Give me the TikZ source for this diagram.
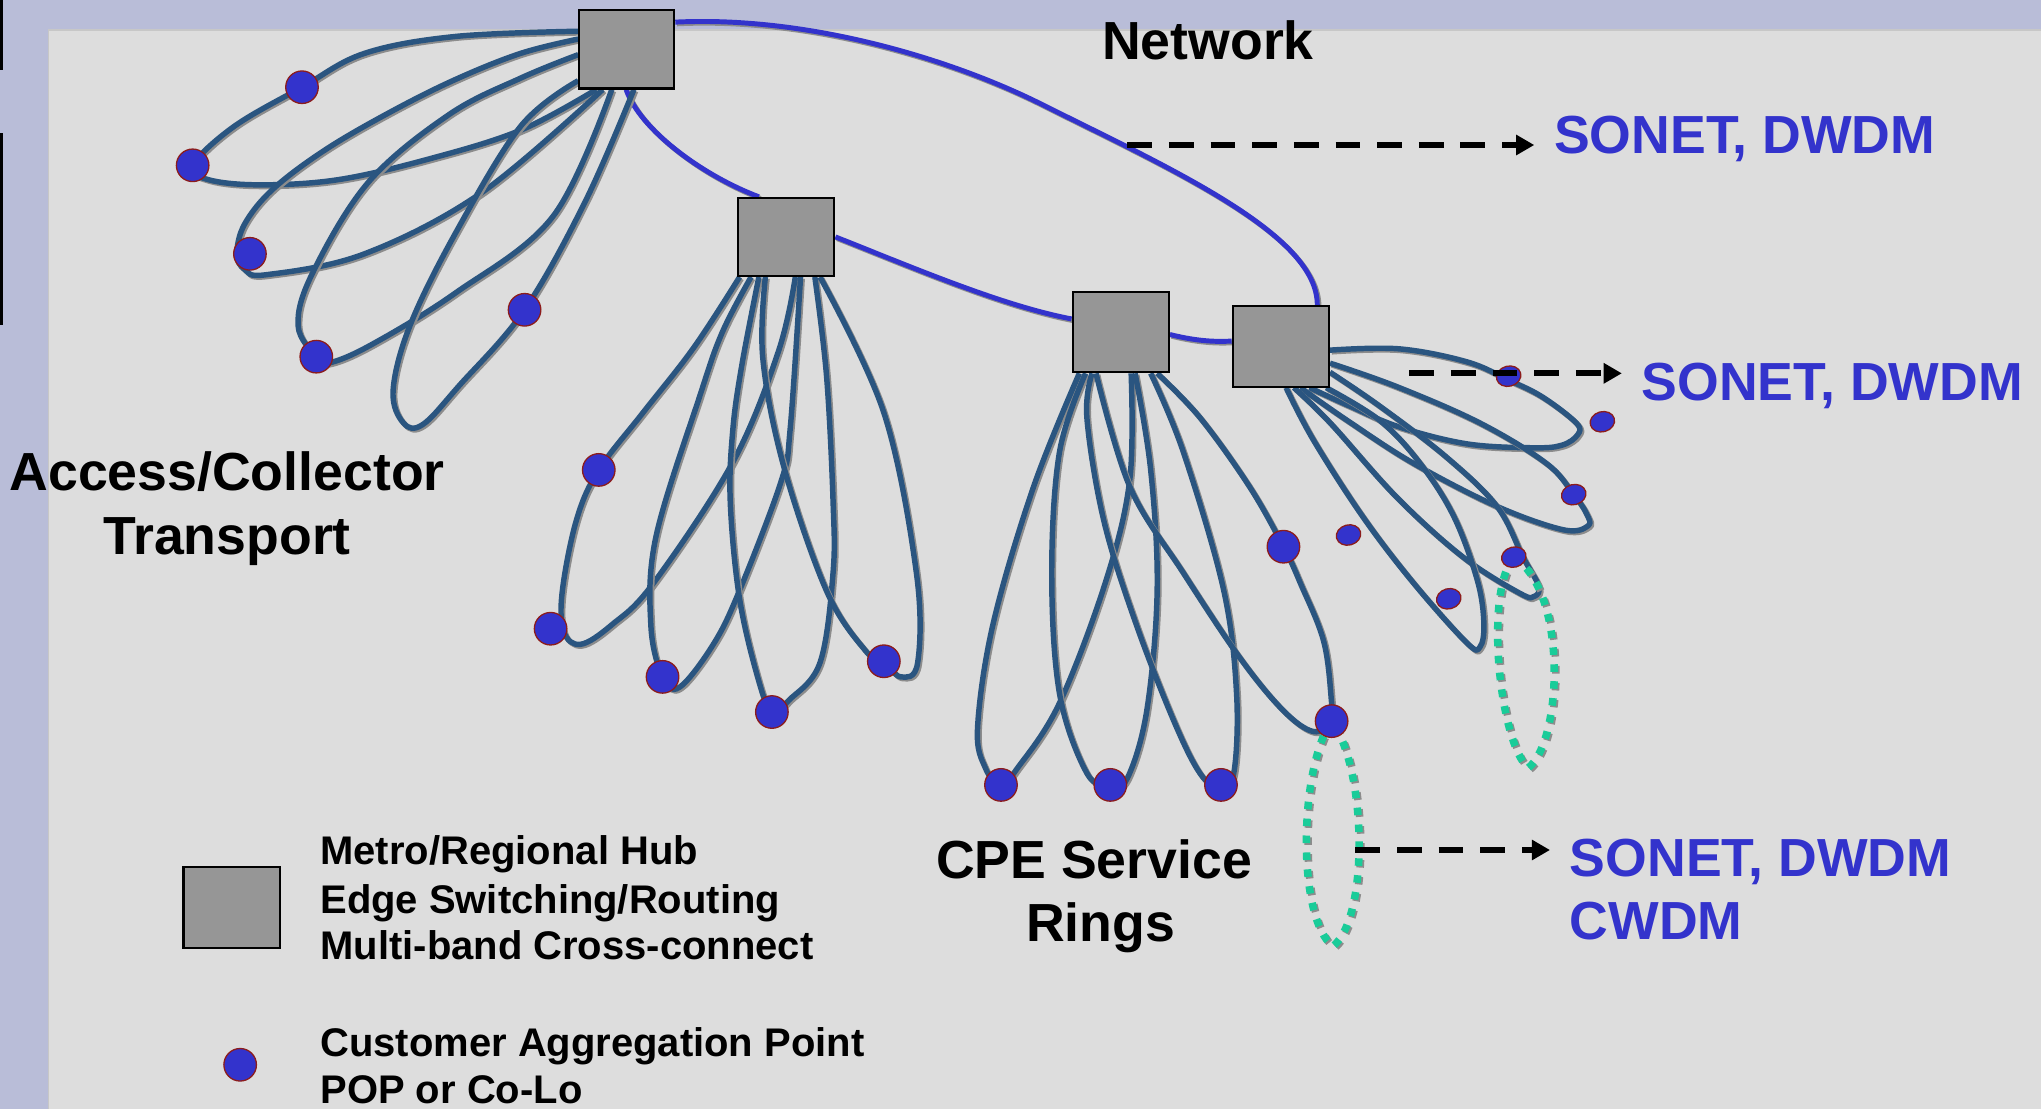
\documentclass[tikz,border=0pt]{standalone}
\usepackage{fontspec}
\setmainfont{Liberation Sans}
\usetikzlibrary{arrows.meta,shapes.geometric}

\definecolor{panel}{HTML}{DDDDDD}
\definecolor{frame}{HTML}{B9BDD8}
\definecolor{hubgray}{HTML}{969696}
\definecolor{ringblue}{HTML}{3333CC}
\definecolor{loopblue}{HTML}{2A5580}
\definecolor{dotrim}{HTML}{8C1C1C}
\definecolor{tealdot}{HTML}{19CC99}
\definecolor{shadowgray}{HTML}{8C8C8C}

\pgfdeclarelayer{back}
\pgfdeclarelayer{links}
\pgfsetlayers{back,links,main}

% draw a path twice: an offset grey copy underneath, then the path itself
\newcommand\withshadow[2]{%
  \draw[#1, shadowpass, transform canvas={shift={(1.3pt,-1.3pt)}}] #2;
  \draw[#1] #2;}

\begin{document}
\begin{tikzpicture}[x=1pt,y=-1pt,
  hubbox/.style={rectangle, fill=hubgray, draw=black, line width=1.6pt,
    minimum width=73pt, minimum height=60pt, inner sep=0pt},
  aggpoint/.style={ellipse, fill=ringblue, draw=dotrim, line width=1pt,
    minimum width=25pt, minimum height=25pt, inner sep=0pt},
  smallpoint/.style={aggpoint, minimum width=19pt, minimum height=15.5pt, rotate=15},
  corering/.style={draw=ringblue, line width=3.8pt},
  fiberloop/.style={draw=loopblue, line width=4.2pt, line join=round},
  tealring/.style={draw=tealdot, line width=5.8pt, dash pattern=on 5.8pt off 7.2pt},
  shadowpass/.style={draw=shadowgray},
  dasharrow/.style={draw=black, line width=4.5pt, dash pattern=on 19pt off 13pt,
    -{Triangle[length=14pt,width=15pt]}, shorten >=15pt},
  lbl/.style={font=\fontsize{41.2}{49}\selectfont\bfseries, inner sep=0pt, anchor=base},
  sonet/.style={lbl, text=ringblue, anchor=base west},
  keytext/.style={font=\fontsize{30.7}{36}\selectfont\bfseries, inner sep=0pt, anchor=base west},
  smooth loop/.style={smooth, tension=0.6}]

\useasboundingbox (0,0) rectangle (1568,852);

% backdrop: frame, panel and the bars on the left margin
\begin{pgfonlayer}{back}
  \fill[frame] (0,0) rectangle (1568,852);
  \fill[panel] (37,23) rectangle (1568,852);
  \draw[black!22, line width=1pt] (37,852) -- (37,23) -- (1568,23);
  \fill[black] (0,0) rectangle (2.5,54);
  \fill[black] (0,102) rectangle (2.5,250);
\end{pgfonlayer}

% hubs
\node[hubbox] (H1) at (481.5,38) {};
\node[hubbox, minimum width=74pt] (H2) at (604,182) {};
\node[hubbox, minimum width=74pt, minimum height=62pt] (H3) at (861,255) {};
\node[hubbox, minimum width=74pt, minimum height=62pt] (H4) at (984,266) {};

% customer aggregation points
\node[aggpoint] (a1) at (232,67) {};
\node[aggpoint] (a2) at (148,127) {};
\node[aggpoint] (a3) at (192,195) {};
\node[aggpoint] (a4) at (243,274) {};
\node[aggpoint] (a5) at (403,238) {};
\node[aggpoint] (b1) at (460,361) {};
\node[aggpoint] (b2) at (423,483) {};
\node[aggpoint] (b3) at (509,520) {};
\node[aggpoint] (b4) at (593,547) {};
\node[aggpoint] (b5) at (679,508) {};
\node[aggpoint] (c1) at (769,603) {};
\node[aggpoint] (c2) at (853,603) {};
\node[aggpoint] (c3) at (938,603) {};
\node[aggpoint] (c4) at (986,420) {};
\node[aggpoint] (c5) at (1023,554) {};
\node[smallpoint] (d1) at (1159,289) {};
\node[smallpoint] (d2) at (1209,380) {};
\node[smallpoint] (d3) at (1163,428) {};
\node[smallpoint] (d4) at (1113,460) {};
\node[smallpoint] (d5) at (1231,324) {};
\node[smallpoint] (d6) at (1036,411) {};

% loop end points on the hub borders
\coordinate (A1s) at ([yshift=14pt]H1.west);
\coordinate (A1e) at ([xshift=-23.5pt]H1.south);
\coordinate (A2s) at ([yshift=8pt]H1.west);
\coordinate (A2e) at ([xshift=-18.5pt]H1.south);
\coordinate (A3s) at ([yshift=-4pt]H1.west);
\coordinate (A3e) at ([xshift=-11.5pt]H1.south);
\coordinate (A4s) at ([yshift=-24pt]H1.west);
\coordinate (A4e) at ([xshift=5.5pt]H1.south);
\coordinate (B1s) at ([xshift=2pt]H2.south west);
\coordinate (B1e) at ([xshift=7pt]H2.south);
\coordinate (B2s) at ([xshift=-27pt]H2.south);
\coordinate (B2e) at ([xshift=11pt]H2.south);
\coordinate (B3s) at ([xshift=-21pt]H2.south);
\coordinate (B3e) at ([xshift=22pt]H2.south);
\coordinate (B4s) at ([xshift=-16pt]H2.south);
\coordinate (B4e) at ([xshift=26pt]H2.south);
\coordinate (C1s) at ([xshift=6pt]H3.south west);
\coordinate (C1e) at ([xshift=8pt]H3.south);
\coordinate (C2s) at ([xshift=-27pt]H3.south);
\coordinate (C2e) at ([xshift=11pt]H3.south);
\coordinate (C3s) at ([xshift=-22pt]H3.south);
\coordinate (C3e) at ([xshift=23pt]H3.south);
\coordinate (C4s) at ([xshift=-19pt]H3.south);
\coordinate (C4e) at ([xshift=28pt]H3.south);
\coordinate (D1s) at ([yshift=-3pt]H4.east);
\coordinate (D1e) at ([xshift=22pt]H4.south);
\coordinate (D2s) at ([yshift=-13pt]H4.east);
\coordinate (D2e) at ([xshift=15pt]H4.south);
\coordinate (D3s) at ([yshift=-20pt]H4.east);
\coordinate (D3e) at ([xshift=10pt]H4.south);
\coordinate (D4s) at ([xshift=-3pt]H4.south east);
\coordinate (D4e) at ([xshift=4pt]H4.south);

\begin{pgfonlayer}{links}
  % core ring joining the hubs
  \withshadow{corering}{([xshift=-0.5pt]H1.south) .. controls (492,100) and (540,135) .. ([xshift=-21pt]H2.north)}
  \withshadow{corering}{(H2.east) .. controls (700,205) and (770,235) .. ([yshift=10pt]H3.west)}
  \withshadow{corering}{([yshift=-2pt]H3.east) .. controls (915,261) and (930,263) .. ([yshift=4pt]H4.west)}
  \withshadow{corering}{([xshift=28pt]H4.north) .. controls (1012,180) and (900,130) .. (800,80)
     .. controls (730,45) and (620,12) .. ([yshift=21pt]H1.east)}

  % access / collector loops
  \withshadow{fiberloop}{plot[smooth loop] coordinates {(A1s) (350,28) (280,41) (a1.center) (180,97) (a2.center) (160,138) (200,142) (260,138) (330,122) (400,100) (A1e)}}
  \withshadow{fiberloop}{plot[smooth loop] coordinates {(A2s) (400,41) (350,61) (300,86) (250,115) (210,145) (188,172) (182,195) (188,207) (205,211) (280,195) (370,148) (A2e)}}
  \withshadow{fiberloop}{plot[smooth loop] coordinates {(A3s) (400,60) (345,88) (283,140) (240,210) (229,250) (a4.center) (252,279) (285,265) (350,225) (425,166) (A3e)}}
  \withshadow{fiberloop}{plot[smooth loop] coordinates {(A4s) (400,97) (350,179) (315,250) (302,300) (310,325) (325,326) (353,296) (a5.center) (450,154) (A4e)}}

  % loops of the second hub
  \withshadow{fiberloop}{plot[smooth loop] coordinates {(B1s) (533,267) (494,317) (b1.center) (443,399) (432,454) (433,485) (446,495) (470,480) (502,448) (563,355) (598,270) (B1e)}}
  \withshadow{fiberloop}{plot[smooth loop] coordinates {(B2s) (555,255) (538,303) (504,412) (500,480) (b3.center) (522,528) (548,495) (568,454) (600,370) (607,330) (B2e)}}
  \withshadow{fiberloop}{plot[smooth loop] coordinates {(B3s) (570,280) (563,330) (561,385) (568,459) (582,520) (b4.center) (606,538) (630,509) (640,440) (640,385) (635,289) (B3e)}}
  \withshadow{fiberloop}{plot[smooth loop] coordinates {(B4s) (586,275) (602,358) (635,454) (665,500) (b5.center) (692,520) (705,509) (704,440) (679,317) (B4e)}}

  % CPE service rings
  \withshadow{fiberloop}{plot[smooth loop] coordinates {(C1s) (794,374) (763,479) (751,559) (757,590) (c1.center) (781,591) (814,540) (850,445) (868,368) (C1e)}}
  \withshadow{fiberloop}{plot[smooth loop] coordinates {(C2s) (814,347) (808,440) (814,533) (835,594) (c2.center) (866,598) (881,546) (889,453) (884,361) (C2e)}}
  \withshadow{fiberloop}{plot[smooth loop] coordinates {(C3s) (835,321) (848,400) (873,480) (904,559) (924,597) (c3.center) (948,593) (950,533) (940,453) (909,347) (C3e)}}
  \withshadow{fiberloop}{plot[smooth loop] coordinates {(C4s) (868,374) (909,440) (953,506) (986,546) (1009,562) (c5.center) (1023,540) (1017,493) (999,448) (c4.center) (960,374) (922,321) (C4e)}}

  % loops of the fourth hub
  \withshadow{fiberloop}{plot[smooth loop] coordinates {(D1s) (1075,268) (1127,278) (1159,292) (1185,305) (1211,325) (1212,334) (1200,342) (1178,344) (1127,341) (1075,328) (1037,312) (D1e)}}
  \withshadow{fiberloop}{plot[smooth loop] coordinates {(D2s) (1073,297) (1137,325) (1188,356) (d2.center) (1219,395) (1220,404) (1201,407) (1150,389) (1086,356) (1035,323) (D2e)}}
  \withshadow{fiberloop}{plot[smooth loop] coordinates {(D3s) (1060,312) (1111,351) (1150,389) (1170,428) (1182,450) (1179,458) (1168,456) (1124,428) (1073,382) (1022,325) (D3e)}}
  \withshadow{fiberloop}{plot[smooth loop] coordinates {(D4s) (1060,323) (1091,356) (1117,397) (1135,446) (1140,479) (1137,497) (1127,494) (1086,448) (1047,397) (1009,338) (D4e)}}

  % dotted sub-rings
  \withshadow{tealring}{(c5.center) .. controls (998,590) and (996,705) .. (1024,727)
     .. controls (1052,705) and (1050,590) .. (c5.center)}
  \withshadow{tealring}{(d3.center) .. controls (1140,455) and (1152,570) .. (1174,590)
     .. controls (1200,570) and (1205,455) .. (d3.center)}
\end{pgfonlayer}

% labels
\node[lbl] (net) at (928,46) {Network};
\node[lbl] (acc1) at (174.5,376.5) {Access/Collector};
\node[lbl] (acc2) at (174.5,426) {Transport};
\node[lbl] (cpe1) at (840.5,675) {CPE Service};
\node[lbl] (cpe2) at (845.5,723) {Rings};

% transport technologies
\node[sonet] (son1) at (1193.7,117.8) {SONET, DWDM};
\node[sonet] (son2) at (1261,307.3) {SONET, DWDM};
\node[sonet] (son3) at (1205.8,673.5) {SONET, DWDM};
\node[sonet] (son4) at (1205.8,722) {CWDM};

\coordinate (arr1) at (866,111.4);
\coordinate (arr2) at (1082.7,286.8);
\coordinate (arr3) at (1041.3,653);
\draw[dasharrow] (arr1) -- (son1.west |- arr1);
\draw[dasharrow] (arr2) -- (son2.west |- arr2);
\draw[dasharrow] (arr3) -- (son3.west |- arr3);

% key
\node[hubbox, minimum width=74pt, minimum height=62pt] (keyhub) at (178,697) {};
\node[keytext] (k1) at (246,664.5) {Metro/Regional Hub};
\node[keytext] (k2) at (246,701.6) {Edge Switching/Routing};
\node[keytext] (k3) at (246,737.5) {Multi-band Cross-connect};
\node[aggpoint] (keypoint) at (184.5,818) {};
\node[keytext] (k4) at (246,811.8) {Customer Aggregation Point};
\node[keytext] (k5) at (246,847.6) {POP or Co-Lo};
\end{tikzpicture}
\end{document}
